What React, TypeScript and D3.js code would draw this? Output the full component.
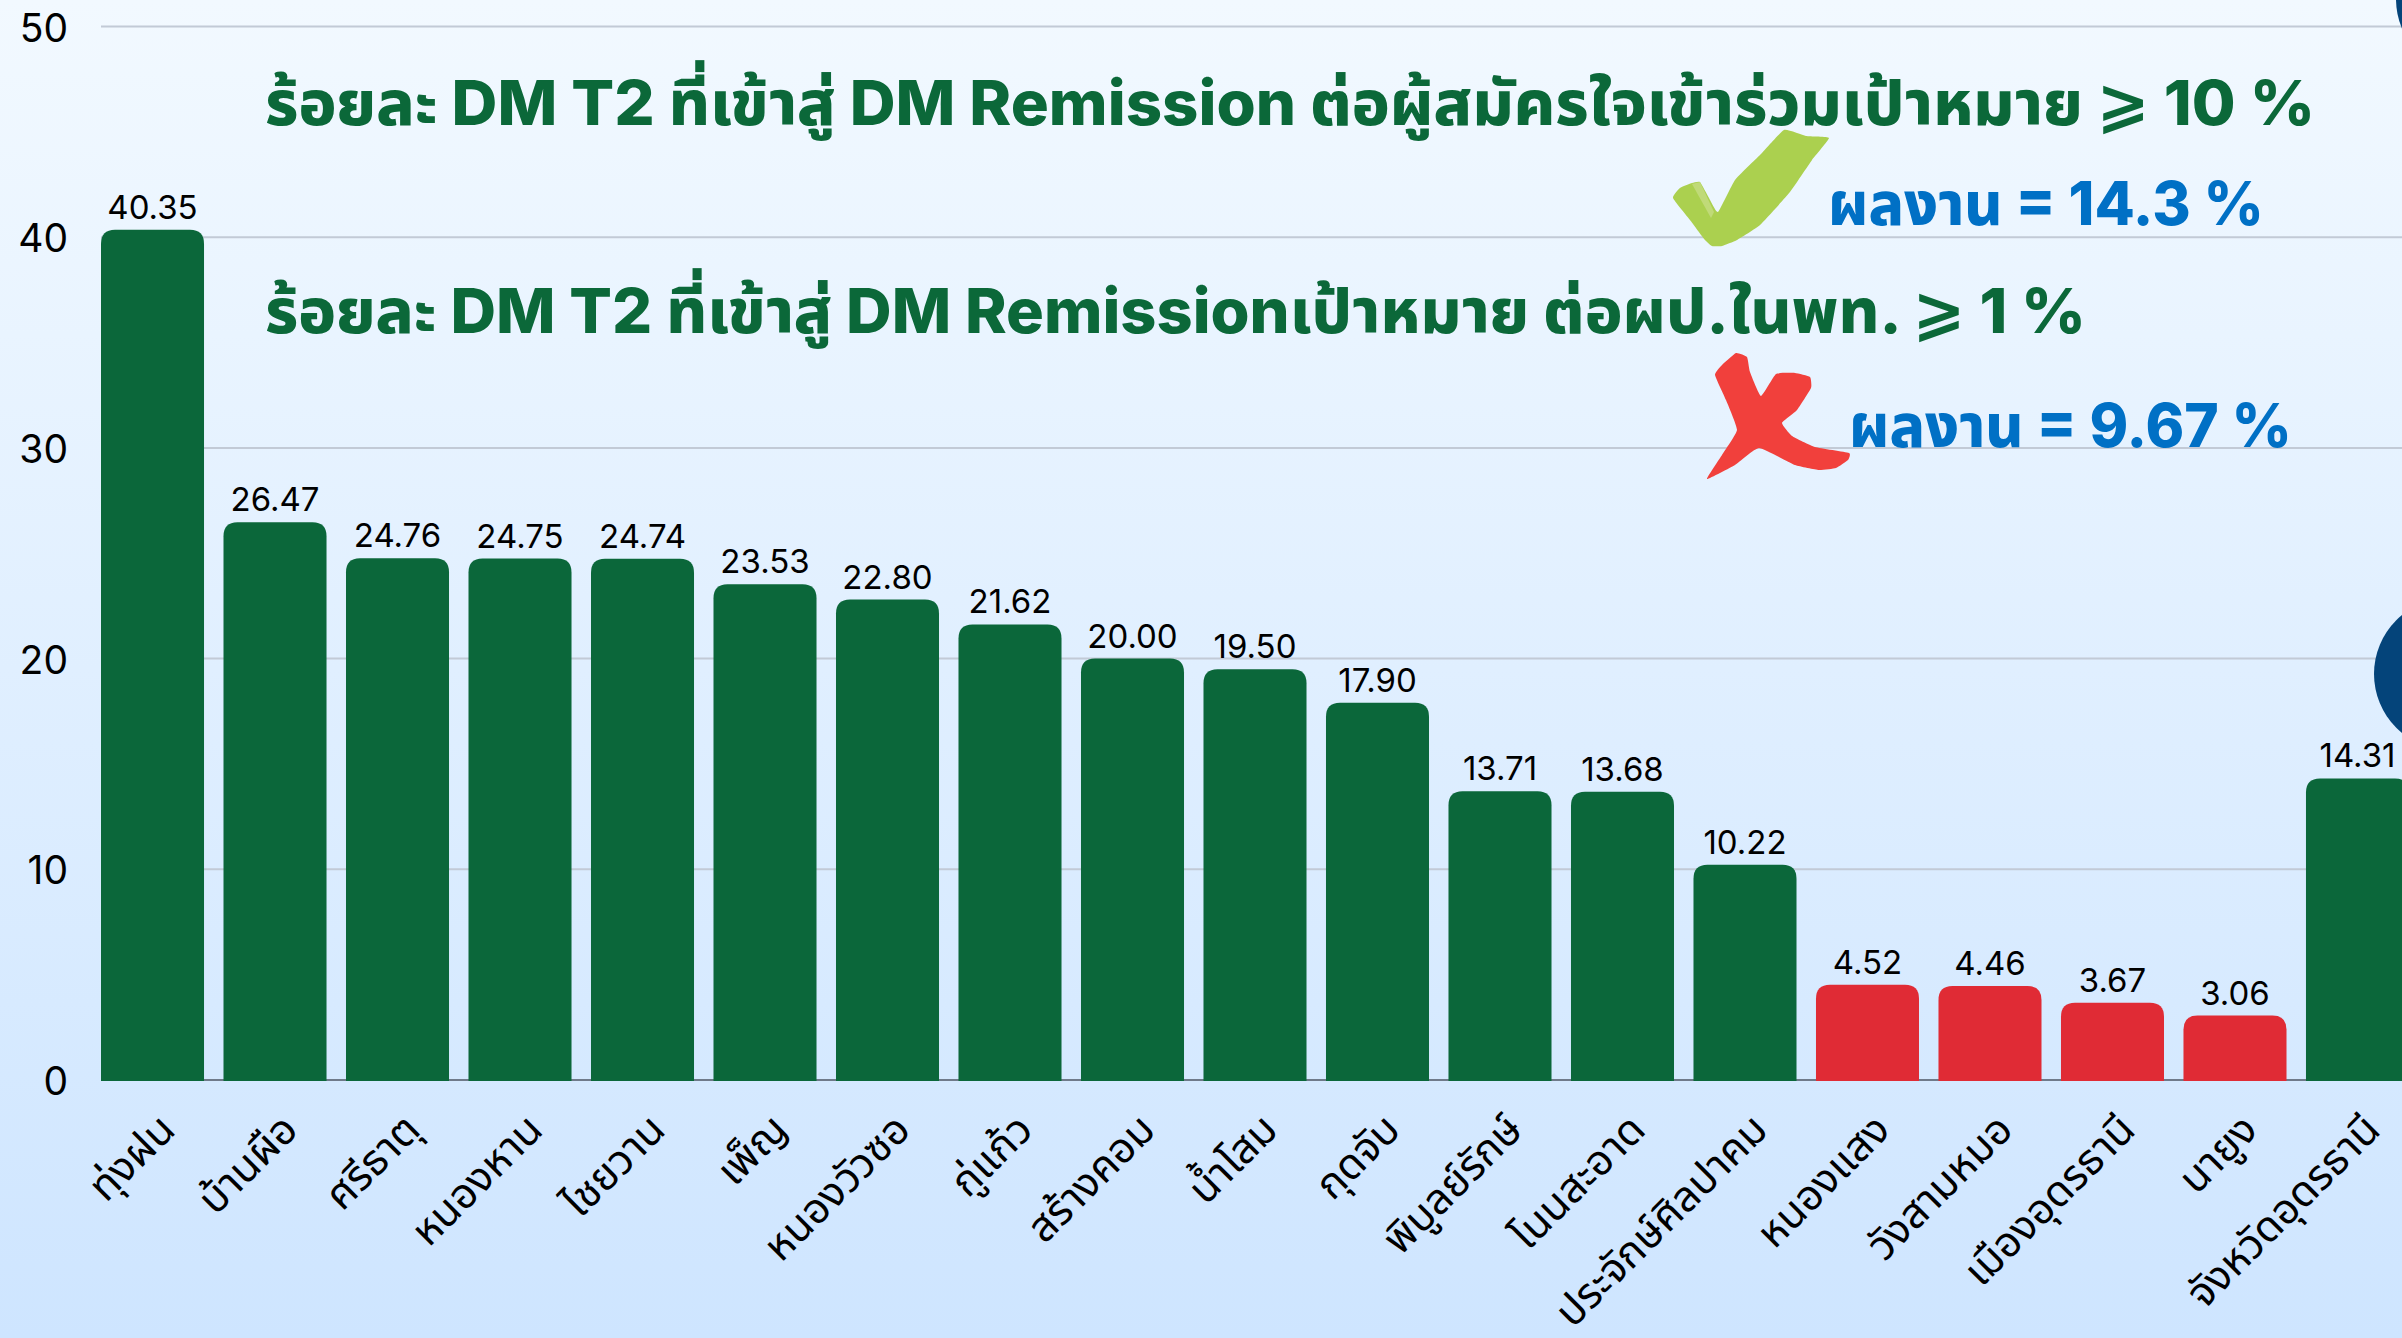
import React from "react";
import * as d3 from "d3";

const categories = ["ทุ่งฝน","บ้านผือ","ศรีธาตุ","หนองหาน","ไชยวาน","เพ็ญ","หนองวัวซอ","กู่แก้ว","สร้างคอม","น้ำโสม","กุดจับ","พิบูลย์รักษ์","โนนสะอาด","ประจักษ์ศิลปาคม","หนองแสง","วังสามหมอ","เมืองอุดรธานี","นายูง","จังหวัดอุดรธานี"];
const values = [40.35,26.47,24.76,24.75,24.74,23.53,22.80,21.62,20.00,19.50,17.90,13.71,13.68,10.22,4.52,4.46,3.67,3.06,14.31];
const yTicks = [0,10,20,30,40,50];
const target = 10;
const titleOne = "ร้อยละ DM T2 ที่เข้าสู่ DM Remission ต่อผู้สมัครใจเข้าร่วมเป้าหมาย ⩾ 10 %";
const titleTwo = "ร้อยละ DM T2 ที่เข้าสู่ DM Remissionเป้าหมาย ต่อผป.ในพท. ⩾ 1 %";
const resultOne = "ผลงาน = 14.3 %";
const resultTwo = "ผลงาน = 9.67 %";

const W = 2402, H = 1338;
const sans = "Inter, 'Noto Sans', 'DejaVu Sans', sans-serif";
const thai = "'Noto Sans', 'Noto Sans Thai', 'DejaVu Sans', sans-serif";
const heavy = "Inter, 'Noto Sans', 'Noto Sans Thai', 'DejaVu Sans', sans-serif";
const x = d3.scaleBand<string>().domain(categories).range([101, 2409]).paddingInner(0.159).paddingOuter(0);
const y = d3.scaleLinear().domain([0, 50]).range([1080, 26.5]);

function barPath(x0: number, w: number, top: number, bottom: number, r: number) {
  const p = d3.path();
  p.moveTo(x0, bottom);
  p.lineTo(x0, top + r);
  p.quadraticCurveTo(x0, top, x0 + r, top);
  p.lineTo(x0 + w - r, top);
  p.quadraticCurveTo(x0 + w, top, x0 + w, top + r);
  p.lineTo(x0 + w, bottom);
  p.closePath();
  return p.toString();
}

const checkPts: [number, number][] = [[1784,130],[1806,136],[1829,138],[1812,160],[1790,192],[1760,225],[1737,240],[1722,246],[1712,246],[1705,240],[1690,220],[1673,198],[1680,188],[1692,183],[1700,182],[1709,198],[1718,212],[1735,180],[1760,155]];
const checkGlow: [number, number][] = [[1692,184],[1700,182],[1714,212],[1711,218]];
const crossPts: [number, number][] = [[1736,353],[1747,357],[1750,372],[1761,396],[1776,374],[1795,373],[1810,377],[1811,388],[1797,410],[1782,423],[1792,436],[1815,447],[1849,453],[1848,460],[1836,468],[1819,470],[1795,465],[1759,448],[1735,465],[1707,479],[1722,455],[1737,430],[1726,400],[1715,375],[1722,365]];
const line = d3.line().curve(d3.curveCardinalClosed.tension(0.6));
const glowLine = d3.line().curve(d3.curveLinearClosed);

export default function App() {
  return (
    <svg width={W} height={H} viewBox={`0 0 ${W} ${H}`} style={{ position: "absolute", left: 0, top: 0 }}>
      <defs>
        <linearGradient id="bg" x1="0" y1="0" x2="0" y2="1">
          <stop offset="0" stopColor="#f2f9ff" />
          <stop offset="1" stopColor="#cee5ff" />
        </linearGradient>
      </defs>
      <rect width={W} height={H} fill="url(#bg)" />
      {yTicks.map((t) => (
        <g key={t}>
          <line x1={101} x2={W} y1={y(t)} y2={y(t)} stroke={t === 0 ? "#6f7a8a" : "#c2cad6"} strokeWidth={2} />
          <text x={68} y={y(t) + 15} textAnchor="end" fontFamily={sans} fontSize={39} fill="#000">{t}</text>
        </g>
      ))}
      <circle cx={2472} cy={-1} r={76} fill="#04447a" />
      <circle cx={2450} cy={674} r={76} fill="#04447a" />
      {categories.map((c, i) => {
        const bx = x(c)!;
        const top = y(values[i]);
        return (
          <g key={c}>
            <path d={barPath(bx, x.bandwidth(), top, 1081, 14)} fill={values[i] < target ? "#e02b35" : "#0b673a"} />
            <text x={bx + x.bandwidth() / 2} y={top - 11} textAnchor="middle" fontFamily={sans} fontSize={33} fill="#000">{values[i].toFixed(2)}</text>
            <text transform={`translate(${bx + x.bandwidth() / 2 + 25},${1132}) rotate(-45)`} textAnchor="end" fontFamily={thai} fontSize={42} fill="#000">{c}</text>
          </g>
        );
      })}
      <text x={265} y={125} fontFamily={heavy} fontWeight={800} fontSize={62} textLength={2050} lengthAdjust="spacingAndGlyphs" fill="#0b6839">{titleOne}</text>
      <text x={265} y={333} fontFamily={heavy} fontWeight={800} fontSize={62} textLength={1821} lengthAdjust="spacingAndGlyphs" fill="#0b6839">{titleTwo}</text>
      <text x={1828} y={225} fontFamily={heavy} fontWeight={800} fontSize={60} textLength={436} lengthAdjust="spacingAndGlyphs" fill="#0070c5">{resultOne}</text>
      <text x={1849} y={447} fontFamily={heavy} fontWeight={800} fontSize={60} textLength={443} lengthAdjust="spacingAndGlyphs" fill="#0070c5">{resultTwo}</text>
      <path d={line(checkPts) ?? ""} fill="#abd04f" />
      <path d={glowLine(checkGlow) ?? ""} fill="#c0da78" />
      <path d={line(crossPts) ?? ""} fill="#f1403c" />
    </svg>
  );
}
